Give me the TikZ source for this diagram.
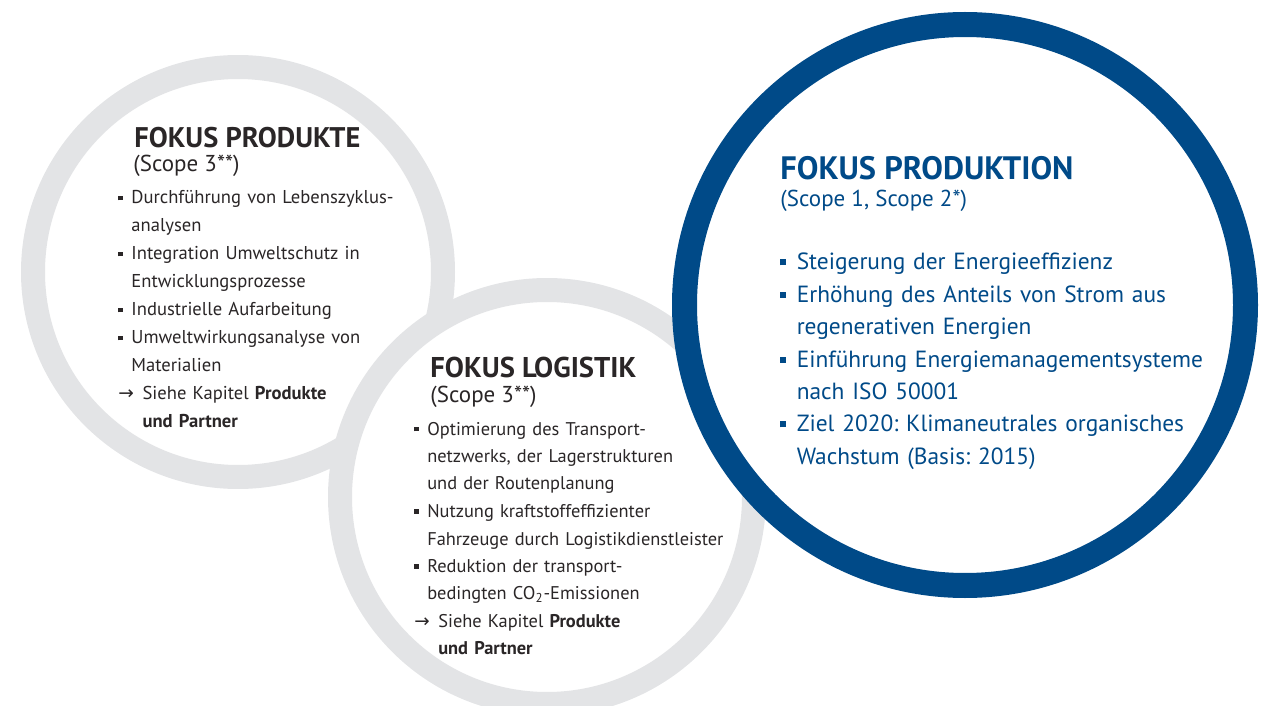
\documentclass[tikz,border=0pt]{standalone}
\usepackage{fontspec}
\setmainfont{PT Sans}
\newfontfamily\arrowfont{DejaVu Sans}
\frenchspacing

\definecolor{ringgrey}{HTML}{E3E4E6}
\definecolor{fokusblue}{HTML}{004A88}
\definecolor{fokustext}{HTML}{2A2627}

% bullet and arrow lines with hanging indent
\newcommand{\pitem}[1]{\hangindent=0.7em\hangafter=1\noindent\makebox[0.7em][l]{\rule[0.2em]{0.25em}{0.25em}}#1\par}
\newcommand{\pref}[1]{\hangindent=1.3em\hangafter=1\noindent\makebox[1.3em][l]{\arrowfont →}#1\par}

\begin{document}
\begin{tikzpicture}[x=0.5pt, y=-0.5pt,
    ring/.style={circle, draw=#1, fill=white, line width=12pt, inner sep=0pt, outer sep=0pt},
    headtext/.style={anchor=base west, inner sep=0pt, font=\bfseries\fontsize{#1}{#1}\selectfont},
    scopetext/.style={anchor=base west, inner sep=0pt, font=\fontsize{#1}{#1}\selectfont},
    itemlist/.style={anchor=base west, inner sep=0pt, align=left, text width=#1}]

    \clip (0,0) rectangle (1271,706);

    % Circles
    \node[ring=ringgrey, minimum size=205pt] (produkte) at (238,272) {};
    \node[ring=ringgrey, minimum size=207pt] (logistik) at (547,497) {};
    \node[ring=fokusblue, line width=12.5pt, minimum size=280.5pt] (produktion) at (965,305) {};

    % Fokus Produkte
    \node[headtext=14.2, text=fokustext] (produkte head) at (134,148) {FOKUS PRODUKTE};
    \node[scopetext=11.5, text=fokustext] (produkte scope) at (133,172) {(Scope 3**)};
    \node[itemlist=220pt, text=fokustext, font=\fontsize{9.3}{14}\selectfont] (produkte list) at (118,204) {%
        \pitem{Durchführung von Lebenszyklus-\newline analysen}%
        \pitem{Integration Umweltschutz in\newline Entwicklungsprozesse}%
        \pitem{Industrielle Aufarbeitung}%
        \pitem{Umweltwirkungsanalyse von\newline Materialien}%
        \pref{Siehe Kapitel \textbf{Produkte}\newline \textbf{und Partner}}};

    % Fokus Logistik
    \node[headtext=14.3, text=fokustext] (logistik head) at (430,378) {FOKUS LOGISTIK};
    \node[scopetext=11.5, text=fokustext] (logistik scope) at (430,402) {(Scope 3**)};
    \node[itemlist=220pt, text=fokustext, font=\fontsize{9.2}{13.75}\selectfont] (logistik list) at (414,435) {%
        \pitem{Optimierung des Transport-\newline netzwerks, der Lagerstrukturen\newline und der Routenplanung}%
        \pitem{Nutzung kraftstoffeffizienter\newline Fahrzeuge durch Logistikdienstleister}%
        \pitem{Reduktion der transport-\newline bedingten CO\textsubscript{2}-Emissionen}%
        \pref{Siehe Kapitel \textbf{Produkte}\newline \textbf{und Partner}}};

    % Fokus Produktion
    \node[headtext=16.2, text=fokusblue] (produktion head) at (780,180) {FOKUS PRODUKTION};
    \node[scopetext=11.5, text=fokusblue] (produktion scope) at (780,206) {(Scope 1, Scope 2*)};
    \node[itemlist=260pt, text=fokusblue, font=\fontsize{11.7}{16.2}\selectfont] (produktion list) at (780,270) {%
        \pitem{Steigerung der Energieeffizienz}%
        \pitem{Erhöhung des Anteils von Strom aus\newline regenerativen Energien}%
        \pitem{Einführung Energiemanagementsysteme\newline nach ISO 50001}%
        \pitem{Ziel 2020: Klimaneutrales organisches\newline Wachstum (Basis: 2015)}};
\end{tikzpicture}
\end{document}
